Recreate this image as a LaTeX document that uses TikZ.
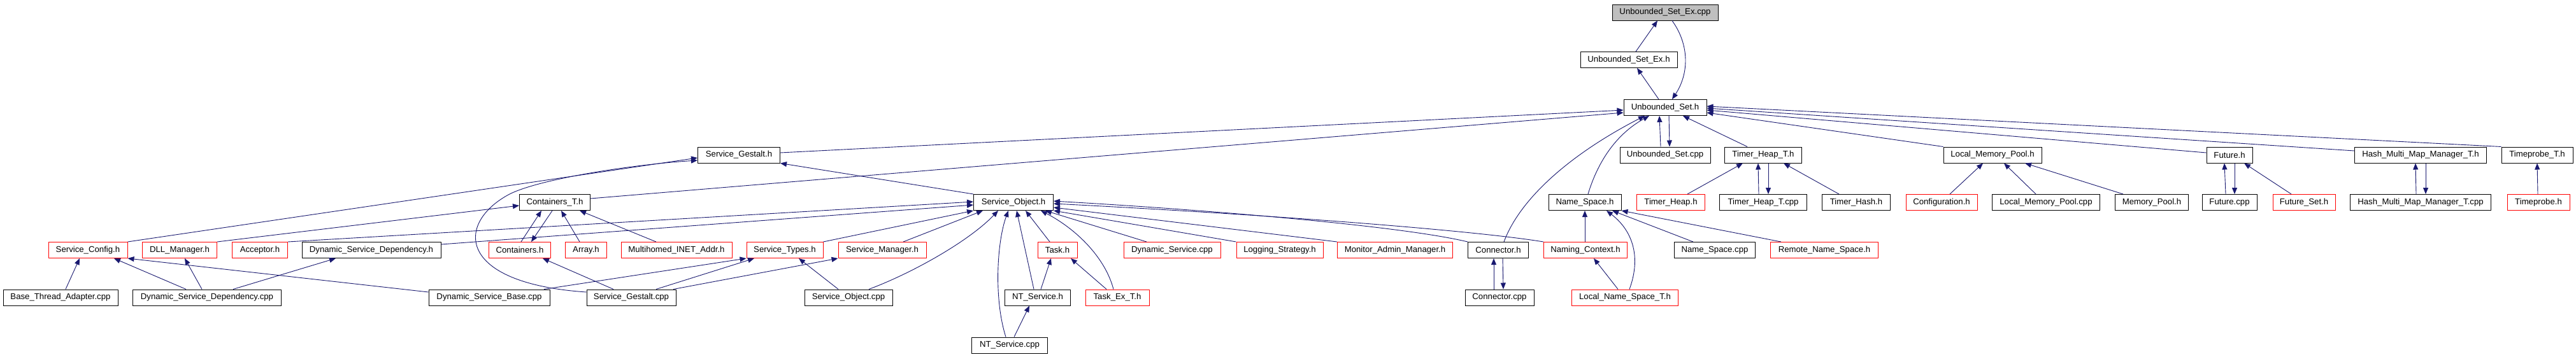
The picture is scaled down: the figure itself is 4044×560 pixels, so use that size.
\documentclass[tikz,border=0pt]{standalone}
\usepackage{fontspec}
\setmainfont{Liberation Sans}
\usetikzlibrary{arrows.meta}
\definecolor{edgeblue}{HTML}{191970}
\definecolor{redbox}{HTML}{FF0000}
\definecolor{rootgray}{HTML}{BFBFBF}
\begin{document}
\begin{tikzpicture}[x=1pt,y=-1pt,
  file/.style={draw=black, line width=1pt, fill=white, minimum height=25pt, inner sep=0pt, font=\fontsize{13.2}{15}\selectfont, text=black},
  redfile/.style={file, draw=redbox},
  rootfile/.style={file, fill=rootgray},
  inc/.style={draw=edgeblue, line width=0.9pt, -{Triangle[length=10pt,width=8pt]}, color=edgeblue}]
\fill[white] (0,0) rectangle (4044,560);
\useasboundingbox (0,0) rectangle (4044,560);
% row 0-2
\node[rootfile, minimum width=166pt] (UBSExcpp) at (2614,19.5) {Unbounded\_Set\_Ex.cpp};
\node[file, minimum width=152pt] (UBSExh) at (2557,94) {Unbounded\_Set\_Ex.h};
\node[file, minimum width=130pt] (UBSh) at (2614,169) {Unbounded\_Set.h};
% row 3
\node[file, minimum width=129pt] (SGh) at (1160,243.5) {Service\_Gestalt.h};
\node[file, minimum width=142pt] (UBScpp) at (2614,243.5) {Unbounded\_Set.cpp};
\node[file, minimum width=121pt] (THTh) at (2768,243.5) {Timer\_Heap\_T.h};
\node[file, minimum width=154pt] (LMPh) at (3128,243.5) {Local\_Memory\_Pool.h};
\node[file, minimum width=72pt] (Futh) at (3500,243.5) {Future.h};
\node[file, minimum width=207pt] (HMMh) at (3800,243.5) {Hash\_Multi\_Map\_Manager\_T.h};
\node[file, minimum width=112pt] (TPTh) at (3983,243.5) {Timeprobe\_T.h};
% row 4
\node[file, minimum width=111pt] (CTh) at (871,318) {Containers\_T.h};
\node[file, minimum width=125pt] (SOh) at (1591,318) {Service\_Object.h};
\node[file, minimum width=114pt] (NSh) at (2488,318) {Name\_Space.h};
\node[redfile, minimum width=107pt] (THh) at (2623,318) {Timer\_Heap.h};
\node[file, minimum width=137pt] (THTcpp) at (2768,318) {Timer\_Heap\_T.cpp};
\node[file, minimum width=107pt] (THashh) at (2914,318) {Timer\_Hash.h};
\node[redfile, minimum width=112pt] (Confh) at (3048,318) {Configuration.h};
\node[file, minimum width=169pt] (LMPcpp) at (3212,318) {Local\_Memory\_Pool.cpp};
\node[file, minimum width=115pt] (MPh) at (3378,318) {Memory\_Pool.h};
\node[file, minimum width=86pt] (Futcpp) at (3500,318) {Future.cpp};
\node[redfile, minimum width=98pt] (FutSeth) at (3617,318) {Future\_Set.h};
\node[file, minimum width=221pt] (HMMcpp) at (3800,318) {Hash\_Multi\_Map\_Manager\_T.cpp};
\node[redfile, minimum width=98pt] (TPh) at (3985,318) {Timeprobe.h};
% row 5
\node[redfile, minimum width=124pt] (SCh) at (138,393) {Service\_Config.h};
\node[redfile, minimum width=117pt] (DLLh) at (282,393) {DLL\_Manager.h};
\node[redfile, minimum width=87pt] (Acch) at (408,393) {Acceptor.h};
\node[file, minimum width=218pt] (DSDh) at (583,393) {Dynamic\_Service\_Dependency.h};
\node[redfile, minimum width=97pt] (Conth) at (816,393) {Containers.h};
\node[redfile, minimum width=65pt] (Arrh) at (920,393) {Array.h};
\node[redfile, minimum width=174pt] (MIAh) at (1062,393) {Multihomed\_INET\_Addr.h};
\node[redfile, minimum width=120pt] (STh) at (1232,393) {Service\_Types.h};
\node[redfile, minimum width=138pt] (SMh) at (1385,393) {Service\_Manager.h};
\node[redfile, minimum width=62pt] (Taskh) at (1660,393) {Task.h};
\node[redfile, minimum width=152pt] (DScpp) at (1840,393) {Dynamic\_Service.cpp};
\node[redfile, minimum width=136pt] (LSh) at (2009,393) {Logging\_Strategy.h};
\node[redfile, minimum width=181pt] (MAMh) at (2190,393) {Monitor\_Admin\_Manager.h};
\node[file, minimum width=95pt] (Connh) at (2352,393) {Connector.h};
\node[redfile, minimum width=131pt] (NCh) at (2489,393) {Naming\_Context.h};
\node[file, minimum width=127pt] (NScpp) at (2692,393) {Name\_Space.cpp};
\node[redfile, minimum width=169pt] (RNSh) at (2864,393) {Remote\_Name\_Space.h};
% row 6
\node[file, minimum width=180pt] (BTAcpp) at (95,467.5) {Base\_Thread\_Adapter.cpp};
\node[file, minimum width=233pt] (DSDcpp) at (325,467.5) {Dynamic\_Service\_Dependency.cpp};
\node[file, minimum width=190pt] (DSBcpp) at (768,467.5) {Dynamic\_Service\_Base.cpp};
\node[file, minimum width=140pt] (SGcpp) at (991,467.5) {Service\_Gestalt.cpp};
\node[file, minimum width=138pt] (SOcpp) at (1332,467.5) {Service\_Object.cpp};
\node[file, minimum width=103pt] (NTSh) at (1629,467.5) {NT\_Service.h};
\node[redfile, minimum width=100pt] (TaskExh) at (1754,467.5) {Task\_Ex\_T.h};
\node[file, minimum width=108pt] (Conncpp) at (2354,467.5) {Connector.cpp};
\node[redfile, minimum width=167pt] (LNSTh) at (2551,467.5) {Local\_Name\_Space\_T.h};
% row 7
\node[file, minimum width=119pt] (NTScpp) at (1585,542.5) {NT\_Service.cpp};

% edges
\draw[inc] ([xshift=11pt]UBSExh.north) -- ([xshift=-12pt]UBSExcpp.south);
\draw[inc] ([xshift=-10pt]UBSh.north) -- ([xshift=13pt]UBSExh.south);
\draw[inc] ([xshift=11pt]UBSExcpp.south) .. controls (2652,70) and (2652,115) .. ([xshift=11pt]UBSh.north);
\draw[inc] ([xshift=-7pt]UBScpp.north) -- ([xshift=-9pt]UBSh.south);
\draw[inc] ([xshift=6pt]UBSh.south) -- ([xshift=7pt]UBScpp.north);
\draw[inc] ([xshift=-25pt]THTh.north) -- ([xshift=28pt]UBSh.south);
\draw[inc] ([xshift=5pt]NSh.north) .. controls (2505,265) and (2530,215) .. ([xshift=-25pt]UBSh.south);
\draw[inc] ([xshift=9pt]Connh.north) .. controls (2385,315) and (2460,245) .. ([xshift=-32pt]UBSh.south);
\draw[inc] ([yshift=3.5pt]SGh.east) -- ([yshift=-4pt]UBSh.west);
\draw[inc] ([yshift=6pt]CTh.east) -- ([yshift=-8pt]UBSh.west);
\draw[inc] (LMPh.north west) -- ([yshift=-8pt]UBSh.east);
\draw[inc] ([yshift=3.5pt]Futh.west) -- ([yshift=-4pt]UBSh.east);
\draw[inc] ([yshift=6.5pt]HMMh.west) -- ([yshift=-1pt]UBSh.east);
\draw[inc] (TPTh.north west) -- ([yshift=2pt]UBSh.east);
% Service_Gestalt.h
\draw[inc] (SOh.north west) -- (SGh.south east);
\draw[inc] (SCh.north east) -- ([yshift=-4.5pt]SGh.west);
\draw[inc] ([yshift=8.5pt]SGcpp.west) .. controls (715,445) and (715,350) .. (800,305) .. controls (850,280) and (1000,258) .. ([yshift=-8.5pt]SGh.west);
% Containers_T.h
\draw[inc] (DLLh.north east) -- ([yshift=-5pt]CTh.west);
\draw[inc] ([xshift=2pt]Conth.north) -- ([xshift=-21pt]CTh.south);
\draw[inc] ([xshift=-4pt]CTh.south) -- ([xshift=18pt]Conth.north);
\draw[inc] ([xshift=-10pt]Arrh.north) -- ([xshift=10pt]CTh.south);
\draw[inc] ([xshift=-32pt]MIAh.north) -- ([xshift=39pt]CTh.south);
% Service_Object.h
\draw[inc] (Acch.north east) -- ([yshift=1pt]SOh.west);
\draw[inc] ([yshift=9pt]DSDh.east) -- ([yshift=-4pt]SOh.west);
\draw[inc] (STh.north east) -- (SOh.south west);
\draw[inc] ([xshift=33pt]SMh.north) -- ([xshift=-48pt]SOh.south);
\draw[inc] ([xshift=32pt]SOcpp.north) .. controls (1430,430) and (1520,380) .. ([xshift=-24pt]SOh.south);
\draw[inc] ([xshift=-6pt]NTScpp.north) .. controls (1560,470) and (1565,380) .. ([xshift=-8pt]SOh.south);
\draw[inc] ([xshift=-6pt]NTSh.north) -- ([xshift=5pt]SOh.south);
\draw[inc] ([xshift=-12pt]Taskh.north) -- ([xshift=19pt]SOh.south);
\draw[inc] ([xshift=-6pt]TaskExh.north) .. controls (1735,405) and (1690,360) .. ([xshift=43pt]SOh.south);
\draw[inc] ([xshift=-40pt]DScpp.north) -- ([xshift=50pt]SOh.south);
\draw[inc] (LSh.north west) -- (SOh.south east);
\draw[inc] (MAMh.north west) -- ([yshift=-8pt]SOh.east);
\draw[inc] (Connh.north west) .. controls (2200,355) and (1900,330) .. ([yshift=2pt]SOh.east);
\draw[inc] (NCh.north west) .. controls (2300,360) and (1950,335) .. ([yshift=-2pt]SOh.east);
% row 5 targets
\draw[inc] ([xshift=8pt]BTAcpp.north) -- ([xshift=-13pt]SCh.south);
\draw[inc] ([xshift=-33pt]DSDcpp.north) -- ([xshift=41pt]SCh.south);
\draw[inc] ([yshift=8.5pt]DSBcpp.west) -- (SCh.south east);
\draw[inc] ([xshift=-8pt]DSDcpp.north) -- ([xshift=8pt]DLLh.south);
\draw[inc] ([xshift=41pt]DSDcpp.north) -- ([xshift=-56pt]DSDh.south);
\draw[inc] ([xshift=-28pt]SGcpp.north) -- ([xshift=36pt]Conth.south);
\draw[inc] ([xshift=86pt]DSBcpp.north) -- (STh.south west);
\draw[inc] ([xshift=39pt]SGcpp.north) -- ([xshift=-48pt]STh.south);
\draw[inc] ([xshift=66pt]SGcpp.north) -- (SMh.south west);
\draw[inc] ([xshift=-16pt]SOcpp.north) -- ([xshift=22pt]STh.south);
\draw[inc] ([xshift=5pt]NTSh.north) -- ([xshift=-10pt]Taskh.south);
\draw[inc] ([xshift=-17pt]TaskExh.north) -- ([xshift=21pt]Taskh.south);
\draw[inc] ([xshift=7pt]NTScpp.north) -- ([xshift=-13pt]NTSh.south);
\draw[inc] ([xshift=-9pt]Conncpp.north) -- ([xshift=-7pt]Connh.south);
\draw[inc] ([xshift=7pt]Connh.south) -- ([xshift=6pt]Conncpp.north);
% Name_Space.h
\draw[inc] ([xshift=-1pt]NCh.north) -- (NSh.south);
\draw[inc] ([xshift=7pt]LNSTh.north) .. controls (2578,400) and (2560,360) .. ([xshift=34pt]NSh.south);
\draw[inc] ([xshift=-34pt]NScpp.north) -- ([xshift=43pt]NSh.south);
\draw[inc] ([xshift=-68pt]RNSh.north) -- (NSh.south east);
\draw[inc] ([xshift=-11pt]LNSTh.north) -- ([xshift=13pt]NCh.south);
% right part
\draw[inc] ([xshift=26pt]THh.north) -- ([xshift=-32pt]THTh.south);
\draw[inc] ([xshift=-7pt]THTcpp.north) -- ([xshift=-8pt]THTh.south);
\draw[inc] ([xshift=8pt]THTh.south) -- ([xshift=8pt]THTcpp.north);
\draw[inc] ([xshift=-27pt]THashh.north) -- ([xshift=32pt]THTh.south);
\draw[inc] ([xshift=13pt]Confh.north) -- ([xshift=-15pt]LMPh.south);
\draw[inc] ([xshift=-16pt]LMPcpp.north) -- ([xshift=18pt]LMPh.south);
\draw[inc] ([xshift=-45pt]MPh.north) -- ([xshift=51pt]LMPh.south);
\draw[inc] ([xshift=-6pt]Futcpp.north) -- ([xshift=-8pt]Futh.south);
\draw[inc] ([xshift=8pt]Futh.south) -- ([xshift=8pt]Futcpp.north);
\draw[inc] ([xshift=-20pt]FutSeth.north) -- ([xshift=23pt]Futh.south);
\draw[inc] ([xshift=-7pt]HMMcpp.north) -- ([xshift=-8pt]HMMh.south);
\draw[inc] ([xshift=8pt]HMMh.south) -- ([xshift=8pt]HMMcpp.north);
\draw[inc] ([xshift=-1pt]TPh.north) -- (TPTh.south);
\end{tikzpicture}
\end{document}
